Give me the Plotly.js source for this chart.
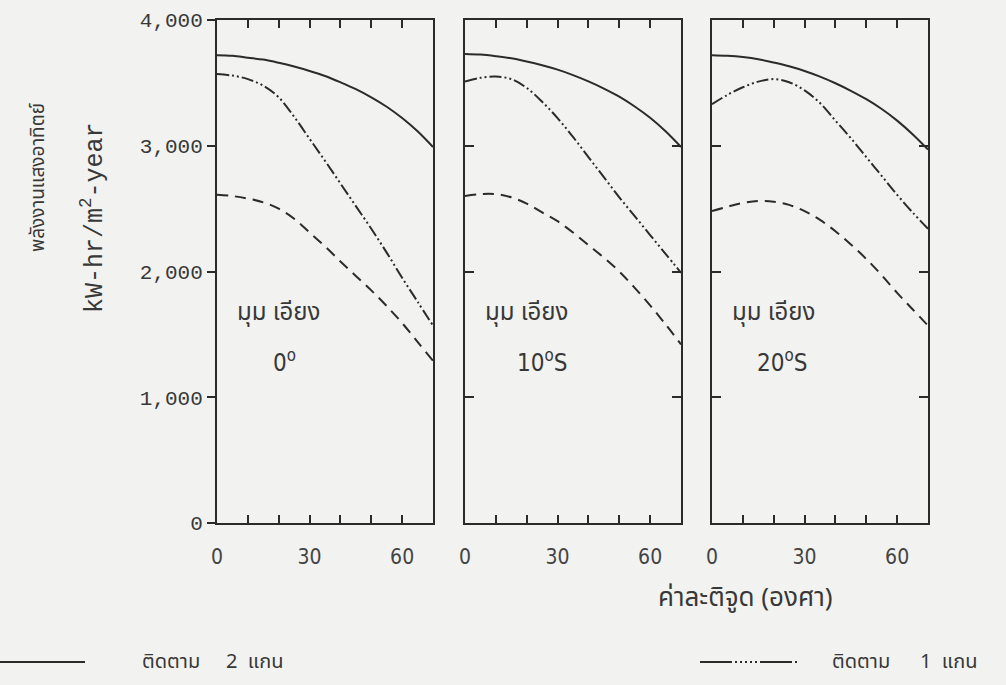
<!DOCTYPE html>
<html>
<head>
<meta charset="utf-8">
<script src="https://cdn.plot.ly/plotly-3.0.1.min.js"></script>
<style>html,body{margin:0;padding:0;background:#f2f2f0;}</style>
</head>
<body>
<div id="chart" style="width:1006px;height:685px;"></div>
<script>
// Latitude (degrees)
const latitude = [0, 5, 10, 15, 20, 25, 30, 35, 40, 45, 50, 55, 60, 65, 70];

// Tilt 0°
const tilt0_twoAxis = [3720, 3715, 3700, 3685, 3660, 3630, 3595, 3555, 3505, 3450, 3385, 3310, 3220, 3115, 2990];
const tilt0_oneAxis = [3570, 3558, 3530, 3478, 3385, 3230, 3055, 2880, 2700, 2520, 2340, 2150, 1950, 1760, 1570];
const tilt0_fixed   = [2610, 2600, 2580, 2550, 2500, 2420, 2310, 2200, 2080, 1965, 1850, 1725, 1590, 1440, 1290];

// Tilt 10°S
const tilt10_twoAxis = [3730, 3725, 3712, 3695, 3670, 3640, 3605, 3562, 3512, 3455, 3390, 3312, 3222, 3115, 2990];
const tilt10_oneAxis = [3510, 3540, 3550, 3530, 3460, 3350, 3220, 3070, 2910, 2750, 2590, 2440, 2290, 2140, 1990];
const tilt10_fixed   = [2600, 2615, 2615, 2590, 2540, 2470, 2400, 2310, 2210, 2110, 2000, 1870, 1730, 1580, 1420];

// Tilt 20°S
const tilt20_twoAxis = [3720, 3715, 3705, 3688, 3662, 3632, 3595, 3550, 3497, 3437, 3370, 3292, 3200, 3092, 2970];
const tilt20_oneAxis = [3330, 3405, 3465, 3510, 3530, 3505, 3440, 3340, 3200, 3060, 2910, 2760, 2610, 2470, 2340];
const tilt20_fixed   = [2480, 2515, 2545, 2560, 2555, 2530, 2480, 2410, 2320, 2215, 2100, 1970, 1830, 1700, 1570];

const xTickVals = [0, 10, 20, 30, 40, 50, 60, 70];
const xTickText = ['0', '', '', '30', '', '', '60', ''];
const yTickVals = [0, 1000, 2000, 3000, 4000];

const panelLabels = ['0<sup>o</sup>', '10<sup>o</sup>S', '20<sup>o</sup>S'];
const tiltWord = 'มุม เอียง';
const legendWord = 'ติดตาม';
const legendTwo = '2  แกน';
const legendOne = '1  แกน';
const yTitleThai = 'พลังงานแสงอาทิตย์';
const yTitleUnit = 'kW-hr/m<sup>2</sup>-year';
const xTitle = 'ค่าละติจูด (องศา)';

const INK = '#2b2b2b';
const TXT = '#383838';
const BG = '#f2f2f0';
const DASH_ONE = '12px,3px,2px,3px,2px,3px';
const DASH_FIXED = '11px,7px';
const THAI = '"Noto Sans Thai", "Noto Sans", "DejaVu Sans", sans-serif';
const SANS = '"DejaVu Sans Condensed", "DejaVu Sans", sans-serif';
const MONO = '"Liberation Mono", monospace';

const panels = [
  {two: tilt0_twoAxis, one: tilt0_oneAxis, fix: tilt0_fixed, xa: 'x', ya: 'y'},
  {two: tilt10_twoAxis, one: tilt10_oneAxis, fix: tilt10_fixed, xa: 'x2', ya: 'y2'},
  {two: tilt20_twoAxis, one: tilt20_oneAxis, fix: tilt20_fixed, xa: 'x3', ya: 'y3'}
];

const traces = [];
panels.forEach(p => {
  traces.push({x: latitude, y: p.two, xaxis: p.xa, yaxis: p.ya, mode: 'lines',
    line: {color: INK, width: 2, shape: 'spline', smoothing: 1}, name: 'ติดตาม 2 แกน'});
  traces.push({x: latitude, y: p.one, xaxis: p.xa, yaxis: p.ya, mode: 'lines',
    line: {color: INK, width: 2, shape: 'spline', smoothing: 1, dash: DASH_ONE}, name: 'ติดตาม 1 แกน'});
  traces.push({x: latitude, y: p.fix, xaxis: p.xa, yaxis: p.ya, mode: 'lines',
    line: {color: INK, width: 2, shape: 'spline', smoothing: 1, dash: DASH_FIXED}, name: 'คงที่'});
});

const W = 1006, H = 685;
const yDom = [1 - 523 / H, 1 - 20 / H];
const xLeft = [217, 465, 712];
const xDoms = xLeft.map(l => [l / W, (l + 216) / W]);

function xAxis(dom, anchor) {
  return {
    domain: dom, anchor: anchor, range: [0, 70], showgrid: false, zeroline: false,
    showline: true, linecolor: INK, linewidth: 2, mirror: 'ticks',
    ticks: 'inside', ticklen: 8, tickwidth: 2, tickcolor: INK,
    tickmode: 'array', tickvals: xTickVals, ticktext: xTickText,
    ticklabelstandoff: 14,
    tickfont: {family: SANS, size: 21, color: '#444'}
  };
}
function yAxisInner(anchor) {
  return {
    domain: yDom, anchor: anchor, range: [0, 4000], showgrid: false, zeroline: false,
    showline: true, linecolor: INK, linewidth: 2, mirror: 'ticks',
    ticks: 'inside', ticklen: 9, tickwidth: 2, tickcolor: INK,
    tickmode: 'array', tickvals: yTickVals, showticklabels: false
  };
}

const px = v => v / W, py = v => 1 - v / H;
const annotations = [];
const labelCenters = [284, 542, 782];
panels.forEach((p, i) => {
  annotations.push({xref: 'paper', yref: 'paper', x: px(xLeft[i] + 18), y: py(313), xanchor: 'left', yanchor: 'middle',
    text: tiltWord, showarrow: false, font: {family: THAI, size: 24, color: TXT}});
  annotations.push({xref: 'paper', yref: 'paper', x: px(labelCenters[i]), y: py(361), xanchor: 'center', yanchor: 'middle',
    text: panelLabels[i], showarrow: false, font: {family: SANS, size: 24, color: TXT}});
});
annotations.push({xref: 'paper', yref: 'paper', x: px(38), y: py(178), textangle: -90, xanchor: 'center', yanchor: 'middle',
  text: yTitleThai, showarrow: false, font: {family: THAI, size: 19, color: TXT}});
annotations.push({xref: 'paper', yref: 'paper', x: px(93), y: py(218), textangle: -90, xanchor: 'center', yanchor: 'middle',
  text: yTitleUnit, showarrow: false, font: {family: MONO, size: 25, color: TXT}});
annotations.push({xref: 'paper', yref: 'paper', x: px(745), y: py(598), xanchor: 'center', yanchor: 'middle',
  text: xTitle, showarrow: false, font: {family: THAI, size: 26, color: TXT}});
annotations.push({xref: 'paper', yref: 'paper', x: px(140), y: py(662), xanchor: 'left', yanchor: 'middle',
  text: legendWord, showarrow: false, font: {family: THAI, size: 20, color: TXT}});
annotations.push({xref: 'paper', yref: 'paper', x: px(224), y: py(662), xanchor: 'left', yanchor: 'middle',
  text: legendTwo, showarrow: false, font: {family: THAI, size: 20, color: TXT}});
annotations.push({xref: 'paper', yref: 'paper', x: px(830), y: py(662), xanchor: 'left', yanchor: 'middle',
  text: legendWord, showarrow: false, font: {family: THAI, size: 20, color: TXT}});
annotations.push({xref: 'paper', yref: 'paper', x: px(918), y: py(662), xanchor: 'left', yanchor: 'middle',
  text: legendOne, showarrow: false, font: {family: THAI, size: 20, color: TXT}});

const shapes = [
  {type: 'line', xref: 'paper', yref: 'paper', x0: 0, x1: px(85), y0: py(662), y1: py(662),
    line: {color: INK, width: 2}},
  {type: 'line', xref: 'paper', yref: 'paper', x0: px(700), x1: px(800), y0: py(662), y1: py(662),
    line: {color: INK, width: 2, dash: '32px,3px,2px,3px,2px,3px,2px,3px,2px,3px,2px,3px'}}
];

const layout = {
  width: W, height: H, margin: {l: 0, r: 0, t: 0, b: 0},
  paper_bgcolor: BG, plot_bgcolor: BG,
  showlegend: false, separators: '.,',
  xaxis: xAxis(xDoms[0], 'y'),
  xaxis2: xAxis(xDoms[1], 'y2'),
  xaxis3: xAxis(xDoms[2], 'y3'),
  yaxis: {
    domain: yDom, anchor: 'x', range: [0, 4000], showgrid: false, zeroline: false,
    showline: true, linecolor: INK, linewidth: 2, mirror: true,
    ticks: 'outside', ticklen: 8, tickwidth: 2, tickcolor: INK,
    tickmode: 'array', tickvals: yTickVals, tickformat: ',d',
    tickfont: {family: MONO, size: 21, color: TXT}
  },
  yaxis4: {
    overlaying: 'y', side: 'right', anchor: 'x', range: [0, 4000], showgrid: false, zeroline: false,
    showline: false, ticks: 'inside', ticklen: 9, tickwidth: 2, tickcolor: INK,
    tickmode: 'array', tickvals: [1000, 2000, 3000], showticklabels: false
  },
  yaxis2: yAxisInner('x2'),
  yaxis3: yAxisInner('x3'),
  annotations: annotations,
  shapes: shapes
};

Plotly.newPlot('chart', traces, layout, {displayModeBar: false, staticPlot: true});
</script>
</body>
</html>
